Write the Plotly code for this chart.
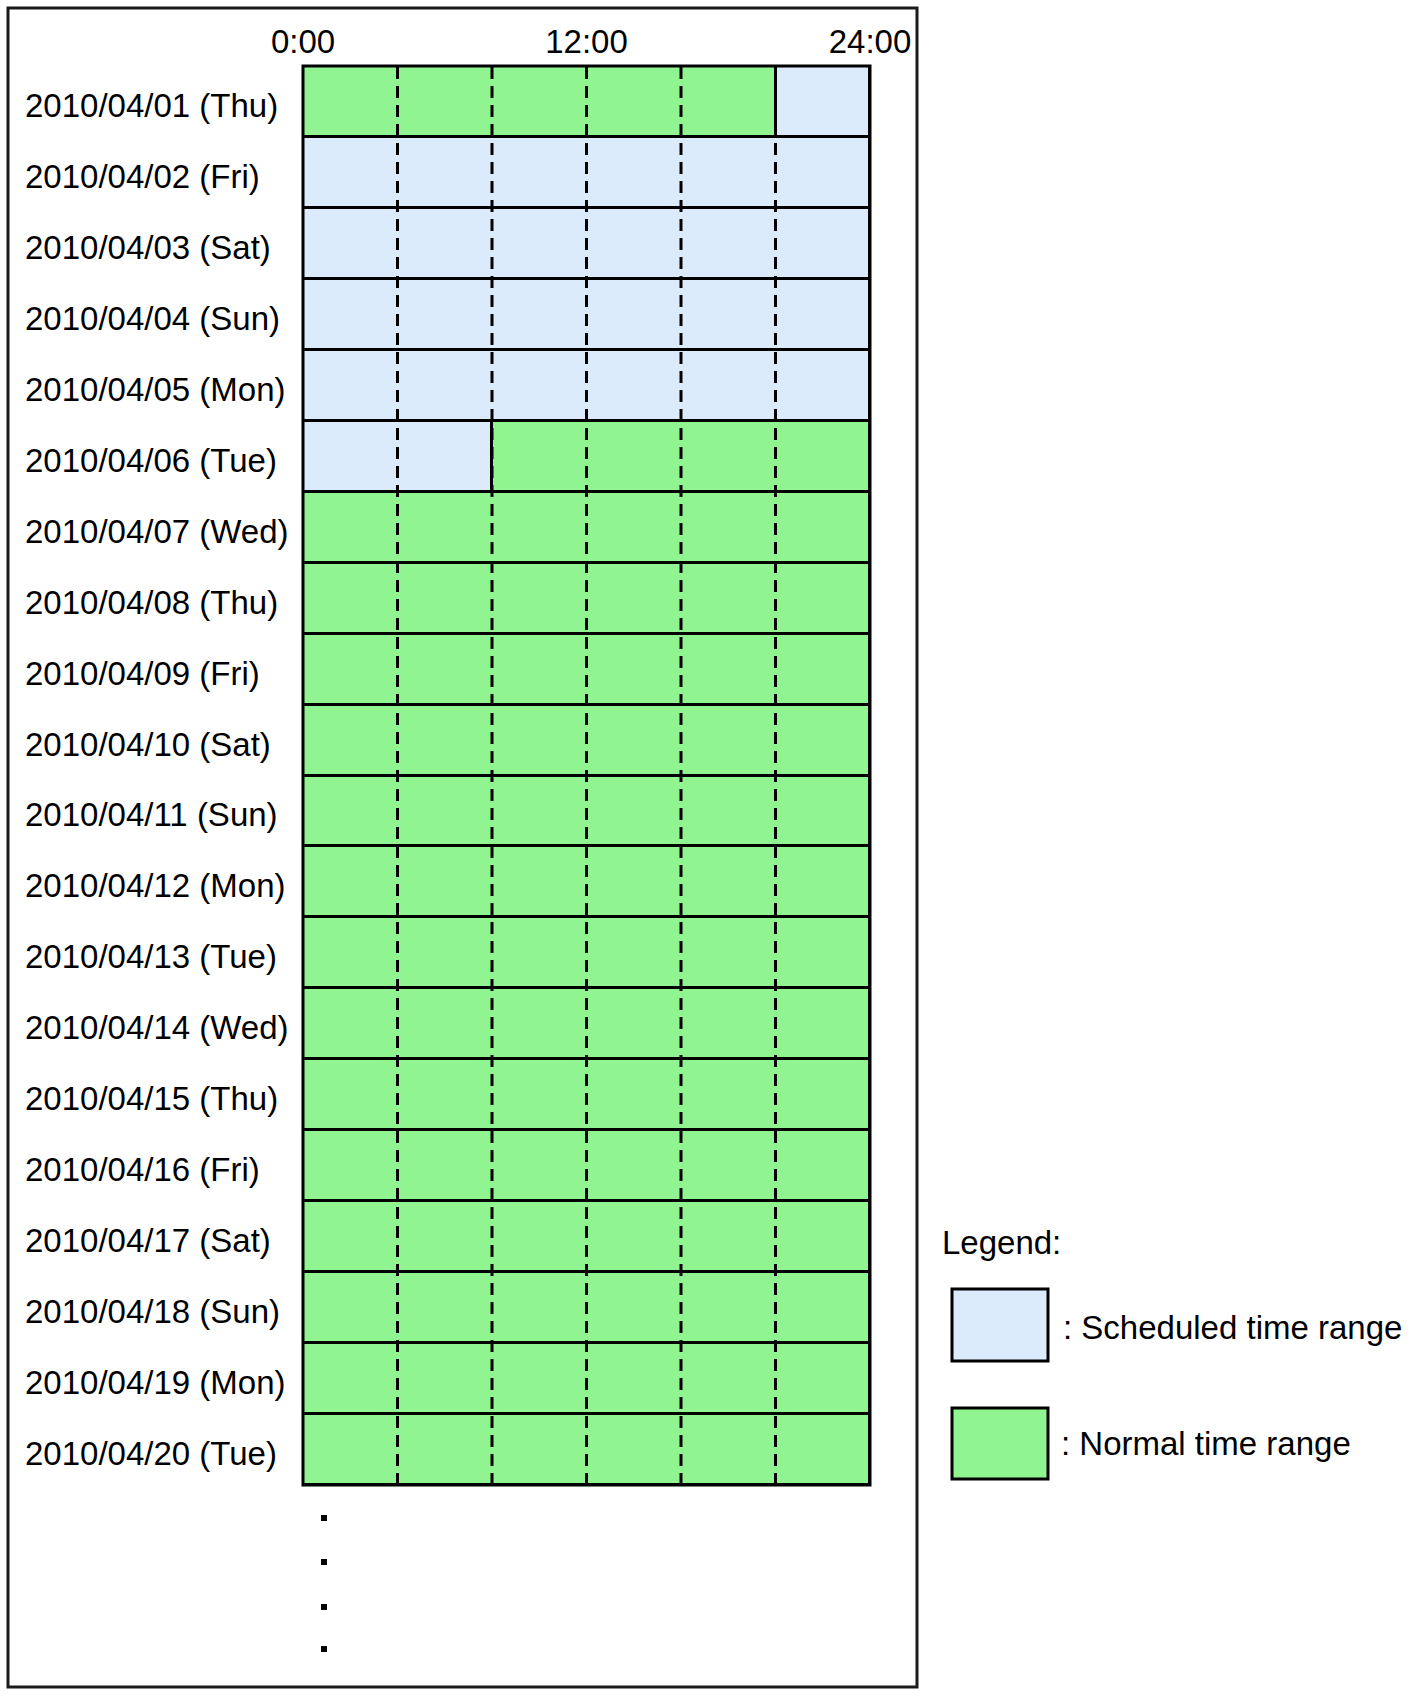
import plotly.graph_objects as go

# ---------------- data ----------------
days = [
    "2010/04/01 (Thu)", "2010/04/02 (Fri)", "2010/04/03 (Sat)", "2010/04/04 (Sun)",
    "2010/04/05 (Mon)", "2010/04/06 (Tue)", "2010/04/07 (Wed)", "2010/04/08 (Thu)",
    "2010/04/09 (Fri)", "2010/04/10 (Sat)", "2010/04/11 (Sun)", "2010/04/12 (Mon)",
    "2010/04/13 (Tue)", "2010/04/14 (Wed)", "2010/04/15 (Thu)", "2010/04/16 (Fri)",
    "2010/04/17 (Sat)", "2010/04/18 (Sun)", "2010/04/19 (Mon)", "2010/04/20 (Tue)",
]
# scheduled time range per day (hours), None = no scheduled range
sched_start = [20, 0, 0, 0, 0, 0] + [None] * 14
sched_end = [24, 24, 24, 24, 24, 8] + [None] * 14
# normal time range per day (hours)
normal_start = [0, None, None, None, None, 8] + [0] * 14
normal_end = [20, None, None, None, None, 24] + [24] * 14

grid_hours = [4, 8, 12, 16, 20]
tick_hours = [0, 12, 24]
tick_labels = ["0:00", "12:00", "24:00"]

legend_title = "Legend:"
legend_items = [": Scheduled time range", ": Normal time range"]

SCHED_COLOR = "#DCEBFC"
NORMAL_COLOR = "#90F590"
FONT = "Liberation Sans, Arial, sans-serif"
FS = 33

# ---------------- layout geometry ----------------
W, H = 1409, 1694
ML, MR, MT, MB = 303, 539, 66, 209
PW, PH = W - ML - MR, H - MT - MB


def fx(p):
    return (p - ML) / PW


def fy(p):
    return (H - MB - p) / PH


def segs(starts, ends):
    ys, xs, bs = [], [], []
    for i, (s, e) in enumerate(zip(starts, ends)):
        if s is None:
            continue
        ys.append(i)
        bs.append(s)
        xs.append(e - s)
    return ys, xs, bs


fig = go.Figure()
for name, st, en, col in [
    ("Normal time range", normal_start, normal_end, NORMAL_COLOR),
    ("Scheduled time range", sched_start, sched_end, SCHED_COLOR),
]:
    ys, xs, bs = segs(st, en)
    fig.add_trace(go.Bar(
        orientation="h", y=ys, x=xs, base=bs, width=1, name=name,
        marker=dict(color=col, line=dict(color="black", width=3)),
        showlegend=False, hoverinfo="skip", cliponaxis=False,
    ))

shapes = []
# dashed hour grid lines
for h in grid_hours:
    shapes.append(dict(type="line", xref="x", yref="paper", x0=h, x1=h, y0=0, y1=1,
                       line=dict(color="black", width=3, dash="12px,7px"), layer="above"))
# frame around the grid
shapes.append(dict(type="rect", xref="paper", yref="paper", x0=0, x1=1, y0=0, y1=1,
                   line=dict(color="black", width=3), fillcolor="rgba(0,0,0,0)", layer="above"))
# outer frame
shapes.append(dict(type="rect", xref="paper", yref="paper",
                   x0=fx(8), x1=fx(917), y0=fy(1687), y1=fy(8),
                   line=dict(color="#1a1a1a", width=3), fillcolor="rgba(0,0,0,0)"))
# legend boxes
shapes.append(dict(type="rect", xref="paper", yref="paper",
                   x0=fx(952), x1=fx(1048), y0=fy(1361), y1=fy(1289),
                   line=dict(color="black", width=3), fillcolor=SCHED_COLOR))
shapes.append(dict(type="rect", xref="paper", yref="paper",
                   x0=fx(952), x1=fx(1048), y0=fy(1479), y1=fy(1408),
                   line=dict(color="black", width=3), fillcolor=NORMAL_COLOR))
# continuation dots
for yy in [1518, 1562, 1607, 1649]:
    shapes.append(dict(type="rect", xref="paper", yref="paper",
                       x0=fx(321), x1=fx(327), y0=fy(yy + 3), y1=fy(yy - 3),
                       line=dict(width=0), fillcolor="black"))

annotations = []
for i, d in enumerate(days):
    annotations.append(dict(text=d, xref="paper", yref="y", x=fx(23), y=i, yshift=-4,
                            xanchor="left", yanchor="middle", showarrow=False,
                            font=dict(size=FS, color="black", family=FONT)))
annotations.append(dict(text=legend_title, xref="paper", yref="paper", x=fx(940), y=fy(1242),
                        xanchor="left", yanchor="middle", showarrow=False,
                        font=dict(size=FS, color="black", family=FONT)))
annotations.append(dict(text=legend_items[0], xref="paper", yref="paper", x=fx(1061), y=fy(1327),
                        xanchor="left", yanchor="middle", showarrow=False,
                        font=dict(size=FS, color="black", family=FONT)))
annotations.append(dict(text=legend_items[1], xref="paper", yref="paper", x=fx(1059), y=fy(1443),
                        xanchor="left", yanchor="middle", showarrow=False,
                        font=dict(size=FS, color="black", family=FONT)))

fig.update_layout(
    width=W, height=H,
    margin=dict(l=ML, r=MR, t=MT, b=MB, autoexpand=False),
    paper_bgcolor="white", plot_bgcolor="white",
    barmode="overlay", bargap=0,
    shapes=shapes, annotations=annotations,
    xaxis=dict(range=[0, 24], side="top", tickvals=tick_hours, ticktext=tick_labels,
               showgrid=False, zeroline=False, showline=False, ticks="",
               tickfont=dict(size=FS, color="black", family=FONT), ticklabelstandoff=5,
               fixedrange=True),
    yaxis=dict(range=[len(days) - 0.5, -0.5], showticklabels=False, showgrid=False,
               zeroline=False, showline=False, ticks="", fixedrange=True),
)

fig.write_html("out.html")
